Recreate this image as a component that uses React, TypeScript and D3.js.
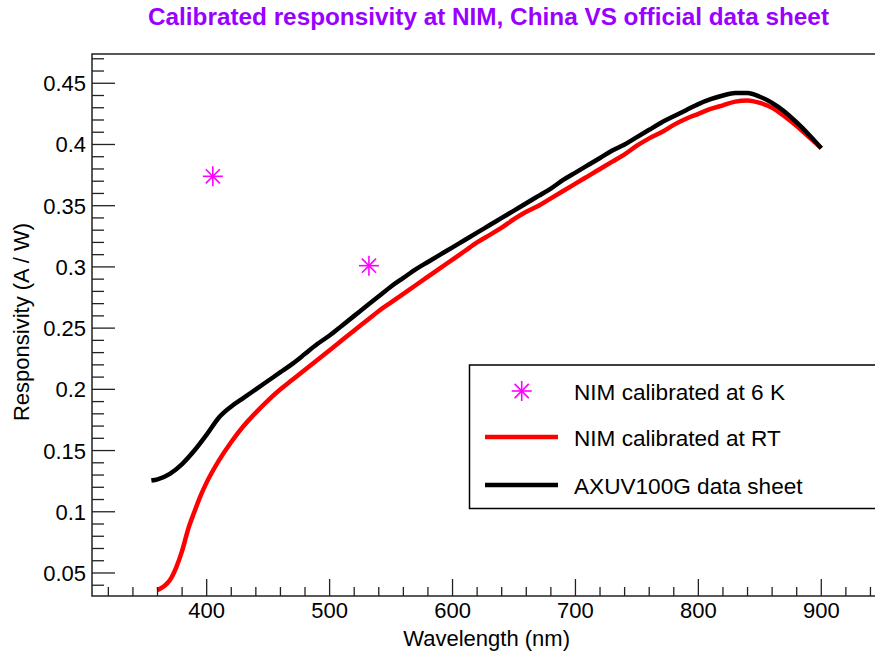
import React from "react";
import * as d3 from "d3";

// AXUV100G data sheet (black)
const sheetWl = [355, 360, 370, 380, 390, 400, 410, 420, 430, 440, 450, 460, 470, 480, 490, 500, 510, 520, 530, 540, 550, 560, 570, 580, 590, 600, 610, 620, 630, 640, 650, 660, 670, 680, 690, 700, 710, 720, 730, 740, 750, 760, 770, 780, 790, 800, 810, 820, 830, 840, 850, 860, 870, 880, 890, 900];
const sheetResp = [0.1255, 0.1265, 0.131, 0.139, 0.15, 0.163, 0.177, 0.186, 0.193, 0.2, 0.207, 0.214, 0.221, 0.229, 0.237, 0.244, 0.252, 0.26, 0.268, 0.276, 0.284, 0.291, 0.298, 0.304, 0.31, 0.316, 0.322, 0.328, 0.334, 0.34, 0.346, 0.352, 0.358, 0.364, 0.371, 0.377, 0.383, 0.389, 0.395, 0.4, 0.406, 0.412, 0.418, 0.423, 0.428, 0.433, 0.437, 0.44, 0.442, 0.442, 0.439, 0.434, 0.427, 0.418, 0.408, 0.397];

// NIM calibrated at RT (red)
const rtWl = [360, 365, 370, 375, 380, 385, 390, 395, 400, 410, 420, 430, 440, 450, 460, 470, 480, 490, 500, 510, 520, 530, 540, 550, 560, 570, 580, 590, 600, 610, 620, 630, 640, 650, 660, 670, 680, 690, 700, 710, 720, 730, 740, 750, 760, 770, 780, 790, 800, 810, 820, 830, 840, 850, 860, 870, 880, 890, 900];
const rtResp = [0.036, 0.039, 0.044, 0.054, 0.068, 0.086, 0.1, 0.113, 0.124, 0.142, 0.157, 0.17, 0.181, 0.191, 0.2, 0.208, 0.216, 0.224, 0.232, 0.24, 0.248, 0.256, 0.264, 0.271, 0.278, 0.285, 0.292, 0.299, 0.306, 0.313, 0.32, 0.326, 0.332, 0.339, 0.345, 0.35, 0.356, 0.362, 0.368, 0.374, 0.38, 0.386, 0.392, 0.399, 0.405, 0.41, 0.416, 0.421, 0.425, 0.429, 0.432, 0.435, 0.436, 0.434, 0.43, 0.423, 0.415, 0.406, 0.397];

// NIM calibrated at 6 K (stars)
const k6Wl = [405, 532];
const k6Resp = [0.374, 0.301];

const xMajor = [400, 500, 600, 700, 800, 900];
const yMajor = [0.05, 0.1, 0.15, 0.2, 0.25, 0.3, 0.35, 0.4, 0.45];
const legendLabels = ["NIM calibrated at 6 K", "NIM calibrated at RT", "AXUV100G data sheet"];

const W = 875;
const H = 653;
const frame = { left: 92, top: 54, right: 890, bottom: 596 };
const font = "Liberation Sans, Arial, Helvetica, sans-serif";

const Star = ({ cx, cy, r }: { cx: number; cy: number; r: number }) => {
  const d = r * Math.SQRT1_2;
  return (
    <g stroke="#ff00ff" strokeWidth={1.6}>
      <line x1={cx - r} y1={cy} x2={cx + r} y2={cy} />
      <line x1={cx} y1={cy - r} x2={cx} y2={cy + r} />
      <line x1={cx - d} y1={cy - d} x2={cx + d} y2={cy + d} />
      <line x1={cx - d} y1={cy + d} x2={cx + d} y2={cy - d} />
    </g>
  );
};

export default function App() {
  const x = d3.scaleLinear().domain([306.7, 955.9]).range([frame.left, frame.right]);
  const y = d3.scaleLinear().domain([0.0312, 0.4739]).range([frame.bottom, frame.top]);

  const line = d3
    .line<[number, number]>()
    .x((d) => x(d[0]))
    .y((d) => y(d[1]))
    .curve(d3.curveMonotoneX);

  const sheetPts = sheetWl.map((w, i) => [w, sheetResp[i]] as [number, number]);
  const rtPts = rtWl.map((w, i) => [w, rtResp[i]] as [number, number]);

  const xMinor = d3.range(320, 960, 20).filter((v) => v % 100 !== 0);
  const yMinor = d3.range(4, 48, 1).map((v) => v / 100).filter((v) => Math.round(v * 100) % 5 !== 0);

  const legY = [391, 437, 485];

  return (
    <svg width={W} height={H} style={{ position: "absolute", left: 0, top: 0 }} fontFamily={font}>
      <rect width={W} height={H} fill="white" />

      {/* title */}
      <text
        x={488.5}
        y={25}
        textAnchor="middle"
        fontSize={23}
        fontWeight="bold"
        fill="#9900ff"
        textLength={681}
        lengthAdjust="spacingAndGlyphs"
      >
        Calibrated responsivity at NIM, China VS official data sheet
      </text>

      {/* curves */}
      <path d={line(rtPts) || ""} fill="none" stroke="#ff0000" strokeWidth={4.5} />
      <path d={line(sheetPts) || ""} fill="none" stroke="#000" strokeWidth={4.5} />
      {k6Wl.map((w, i) => (
        <Star key={w} cx={x(w)} cy={y(k6Resp[i])} r={10} />
      ))}

      {/* frame */}
      <rect
        x={frame.left}
        y={frame.top}
        width={frame.right - frame.left}
        height={frame.bottom - frame.top}
        fill="none"
        stroke="#222"
        strokeWidth={1.5}
      />

      {/* x ticks */}
      {xMajor.map((v) => (
        <g key={v}>
          <line x1={x(v)} x2={x(v)} y1={frame.bottom} y2={frame.bottom - 17} stroke="#222" strokeWidth={1.3} />
          <text x={x(v)} y={618} textAnchor="middle" fontSize={22}>{v}</text>
        </g>
      ))}
      {xMinor.map((v) => (
        <line key={v} x1={x(v)} x2={x(v)} y1={frame.bottom} y2={frame.bottom - 9} stroke="#222" strokeWidth={1.3} />
      ))}
      <text x={570} y={646} textAnchor="end" fontSize={22}>Wavelength (nm)</text>

      {/* y ticks */}
      {yMajor.map((v) => (
        <g key={v}>
          <line x1={frame.left} x2={frame.left + 23} y1={y(v)} y2={y(v)} stroke="#222" strokeWidth={1.3} />
          <text x={86} y={y(v) + 8} textAnchor="end" fontSize={22}>{v}</text>
        </g>
      ))}
      {yMinor.map((v) => (
        <line key={v} x1={frame.left} x2={frame.left + 12} y1={y(v)} y2={y(v)} stroke="#222" strokeWidth={1.3} />
      ))}
      <text transform="translate(29,223) rotate(-90)" textAnchor="end" fontSize={22}>
        Responsivity (A / W)
      </text>

      {/* legend */}
      <rect x={469.5} y={365} width={450} height={143.5} fill="white" stroke="#000" strokeWidth={1.5} />
      <Star cx={521.7} cy={legY[0]} r={10} />
      <line x1={485} x2={558} y1={legY[1]} y2={legY[1]} stroke="#ff0000" strokeWidth={4.5} />
      <line x1={485} x2={558} y1={legY[2]} y2={legY[2]} stroke="#000" strokeWidth={4.5} />
      {legendLabels.map((t, i) => (
        <text key={t} x={574} y={legY[i] + 9} fontSize={22.6}>{t}</text>
      ))}
    </svg>
  );
}
